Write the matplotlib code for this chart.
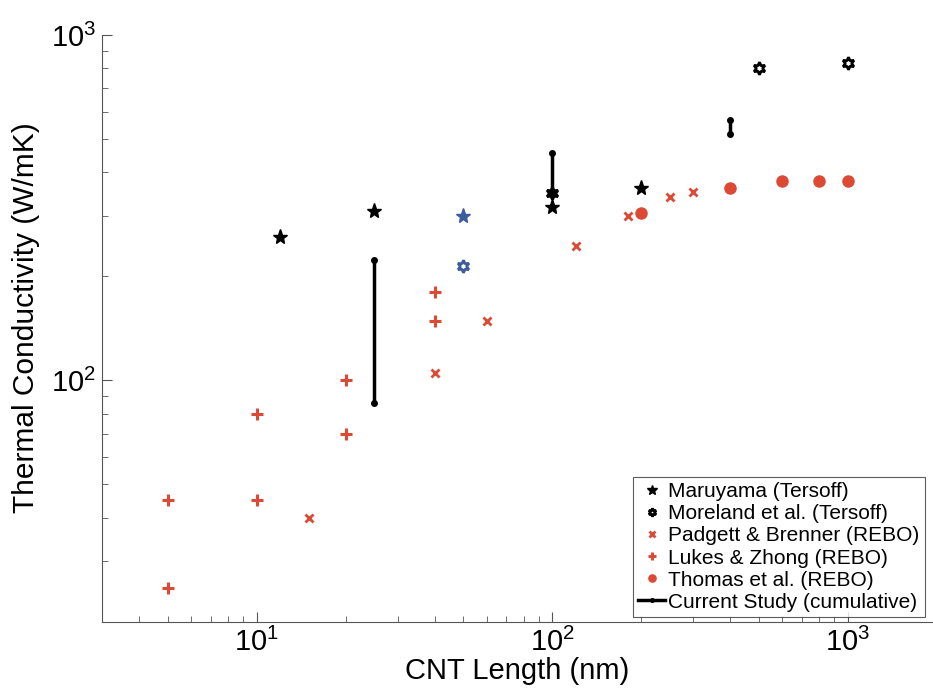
import matplotlib.pyplot as plt
from matplotlib.ticker import LogLocator, NullFormatter

plt.rcParams['font.family'] = ['Liberation Sans', 'DejaVu Sans']
plt.rcParams['mathtext.fontset'] = 'custom'
plt.rcParams['mathtext.rm'] = 'Liberation Sans'

# data (CNT length in nm, thermal conductivity in W/mK)
maruyama_x = [12, 25, 100, 200]
maruyama_y = [260, 309, 317, 360]

moreland_x = [100, 500, 1000]
moreland_y = [348, 800, 830]

blue_star_x = [50]
blue_star_y = [300]
blue_hex_x = [50]
blue_hex_y = [214]

padgett_x = [15, 40, 60, 120, 180, 250, 300]
padgett_y = [40, 105, 149, 245, 300, 340, 351]

lukes_x = [5, 5, 10, 10, 20, 20, 40, 40]
lukes_y = [45, 25, 80, 45, 100, 70, 180, 149]

thomas_x = [200, 400, 600, 800, 1000]
thomas_y = [305, 360, 378, 378, 378]

# current study: ranges at each length
current_x = [25, 100, 400]
current_lo = [86, 348, 516]
current_hi = [223, 455, 567]

red = '#dc4a35'
blue = '#3d5c9c'

fig = plt.figure(figsize=(9.33, 6.99), dpi=100)
ax = fig.add_axes([0.1093, 0.1102, 0.8907, 0.8398])

ax.plot(maruyama_x, maruyama_y, ls='none', marker='*', ms=11, color='k',
        label='Maruyama (Tersoff)')
ax.plot(moreland_x, moreland_y, ls='none', marker=(6, 1, 0), ms=9, mew=2,
        mfc='none', mec='k', label='Moreland et al. (Tersoff)')
ax.plot(padgett_x, padgett_y, ls='none', marker='x', ms=6, mew=2, color=red,
        label='Padgett & Brenner (REBO)')
ax.plot(lukes_x, lukes_y, ls='none', marker='+', ms=9, mew=2.2, color=red,
        label='Lukes & Zhong (REBO)')
ax.plot(thomas_x, thomas_y, ls='none', marker='o', ms=8, color=red,
        label='Thomas et al. (REBO)')

for i in range(len(current_x)):
    ax.plot([current_x[i], current_x[i]], [current_lo[i], current_hi[i]],
            '-', marker='.', ms=8, lw=2.5, color='k',
            label='Current Study (cumulative)' if i == 0 else None)

# blue points not in legend
ax.plot(blue_star_x, blue_star_y, ls='none', marker='*', ms=11, color=blue)
ax.plot(blue_hex_x, blue_hex_y, ls='none', marker=(6, 1, 0), ms=9, mew=2,
        mfc='none', mec=blue)

ax.set_xscale('log')
ax.set_yscale('log')
ax.set_xlim(3, 1942)
ax.set_ylim(20, 1000)

ax.xaxis.set_major_locator(LogLocator(base=10, numticks=10))
ax.yaxis.set_major_locator(LogLocator(base=10, subs=[1.0], numticks=10))
ax.yaxis.set_minor_locator(LogLocator(base=10, subs=range(2, 10), numticks=20))
ax.yaxis.set_minor_formatter(NullFormatter())
ax.xaxis.set_minor_formatter(NullFormatter())

ax.spines['top'].set_visible(False)
ax.spines['right'].set_visible(False)
ax.spines['left'].set_color('#555555')
ax.spines['bottom'].set_color('#555555')
ax.tick_params(which='both', direction='in', colors='#555555', labelcolor='k')
ax.tick_params(which='major', length=7, labelsize=21, pad=4)
ax.tick_params(which='minor', length=4)

ax.set_xlabel('CNT Length (nm)', fontsize=21, labelpad=0)
ax.set_ylabel('Thermal Conductivity (W/mK)', fontsize=21.5)
ax.yaxis.set_label_coords(-0.074, 0.518)

leg = ax.legend(loc='lower right', bbox_to_anchor=(0.99, 0.0085),
                borderaxespad=0, fontsize=15, numpoints=1, handlelength=1.3,
                handletextpad=0.15, labelspacing=0.15, borderpad=0.25,
                fancybox=False, edgecolor='#333333', markerscale=0.65)
leg.get_frame().set_linewidth(0.8)

plt.savefig('out.png', dpi=100)
